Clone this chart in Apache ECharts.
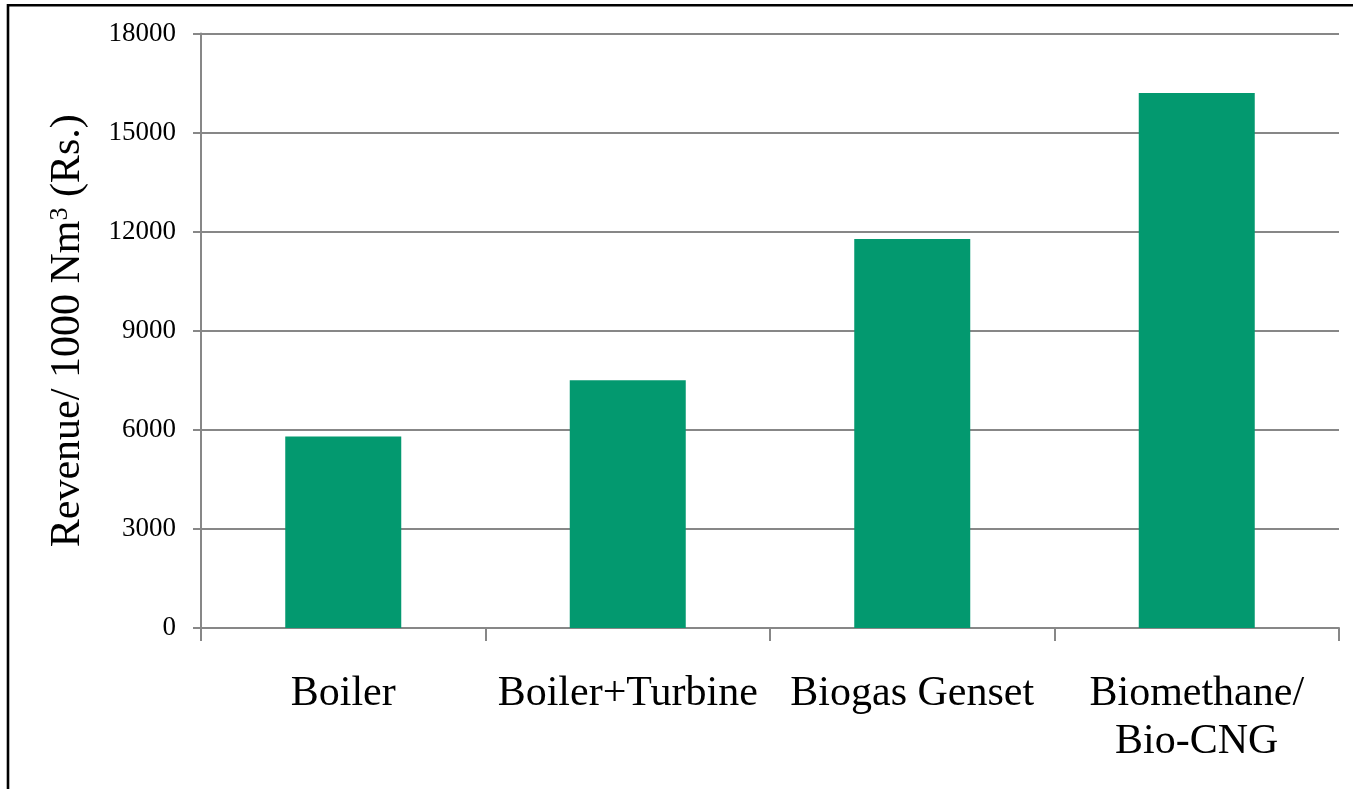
<!DOCTYPE html>
<html>
<head>
<meta charset="utf-8">
<title>Revenue per 1000 Nm3</title>
<script src="https://cdn.jsdelivr.net/npm/echarts@6/dist/echarts.min.js"></script>
<style>
  html, body { margin: 0; padding: 0; background: #ffffff; }
  #chart { width: 1353px; height: 789px; }
</style>
</head>
<body>
<div id="chart"></div>
<script>
// Revenue per 1000 Nm3 of biogas for each utilisation route
const categories = ['Boiler', 'Boiler+Turbine', 'Biogas Genset', 'Biomethane/\nBio-CNG'];
const revenue = [5800, 7500, 11780, 16200];
const yTicks = [0, 3000, 6000, 9000, 12000, 15000, 18000];

const serif = '"Liberation Serif", "Times New Roman", serif';
const axisGrey = '#878787';

const chart = echarts.init(document.getElementById('chart'), null, { renderer: 'canvas' });

chart.setOption({
  backgroundColor: '#ffffff',
  animation: false,
  grid: { left: 201, right: 14, top: 33.5, bottom: 161, containLabel: false },
  graphic: [{
    type: 'rect',
    silent: true,
    shape: { x: 8, y: 5.3, width: 1500, height: 1000 },
    style: { fill: 'none', stroke: '#000000', lineWidth: 2.6 }
  }],
  xAxis: {
    type: 'category',
    data: categories,
    axisLine: { show: true, lineStyle: { color: axisGrey, width: 2 } },
    axisTick: { show: true, alignWithLabel: false, length: 13, lineStyle: { color: axisGrey, width: 2 } },
    axisLabel: {
      interval: 0,
      margin: 42,
      color: '#000000',
      fontFamily: serif,
      fontSize: 42,
      lineHeight: 48,
      align: 'center'
    },
    splitLine: { show: false }
  },
  yAxis: {
    type: 'value',
    min: yTicks[0],
    max: yTicks[yTicks.length - 1],
    interval: yTicks[1] - yTicks[0],
    name: '{t|Revenue/ 1000 Nm}{s|3}{t| (Rs.)}',
    nameLocation: 'middle',
    nameGap: 112,
    nameTextStyle: {
      rich: {
        t: { fontFamily: serif, fontSize: 42, color: '#000000' },
        s: { fontFamily: serif, fontSize: 26, color: '#000000', verticalAlign: 'top' }
      }
    },
    axisLine: { show: true, lineStyle: { color: axisGrey, width: 2 } },
    axisTick: { show: true, length: 8, lineStyle: { color: axisGrey, width: 2 } },
    axisLabel: {
      margin: 25,
      color: '#000000',
      fontFamily: serif,
      fontSize: 27,
      formatter: (v) => String(v)
    },
    splitLine: { show: true, lineStyle: { color: axisGrey, width: 2 } }
  },
  series: [{
    type: 'bar',
    data: revenue,
    barWidth: 116,
    itemStyle: { color: '#03996f' }
  }]
});
</script>
</body>
</html>
